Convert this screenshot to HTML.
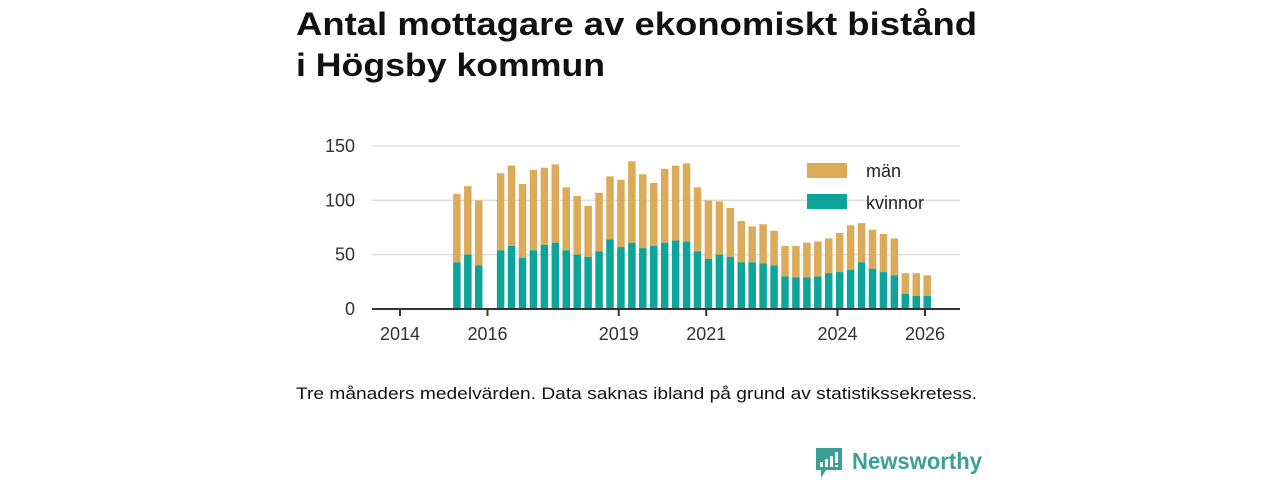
<!DOCTYPE html>
<html><head><meta charset="utf-8"><style>
html,body{margin:0;padding:0;background:#fff;width:1280px;height:480px;overflow:hidden}
svg{display:block;font-family:"Liberation Sans","DejaVu Sans",sans-serif}
</style></head><body>
<svg id="chart" width="1280" height="480" viewBox="0 0 1280 480">
<text x="296" y="35" font-size="32" font-weight="bold" fill="#111" textLength="681" lengthAdjust="spacingAndGlyphs">Antal mottagare av ekonomiskt bistånd</text>
<text x="296" y="76" font-size="32" font-weight="bold" fill="#111" textLength="309" lengthAdjust="spacingAndGlyphs">i Högsby kommun</text>
<g id="grid"></g>
<g id="bars"></g>
<g id="axes"></g>
<g>
<rect x="807" y="163" width="40" height="15" fill="#dcab5a"/>
<text x="866" y="177" font-size="18" fill="#222">män</text>
<rect x="807" y="194" width="40" height="15" fill="#0da59a"/>
<text x="866" y="209" font-size="18" fill="#222">kvinnor</text>
</g>
<text x="296" y="399" font-size="17" fill="#111" textLength="681" lengthAdjust="spacingAndGlyphs">Tre månaders medelvärden. Data saknas ibland på grund av statistikssekretess.</text>
<g>
<path d="M816 448 h26 v22 h-16 l-5 8 v-8 h-5 z" fill="#3a9f95"/>
<rect x="820" y="462" width="3" height="5" fill="#fff"/><rect x="825" y="459" width="3" height="8" fill="#fff"/><rect x="830" y="456" width="3" height="11" fill="#fff"/><rect x="835" y="452" width="3" height="11" fill="#fff"/><rect x="835" y="465" width="3" height="2" fill="#fff"/>
<text x="852" y="469" font-size="23" font-weight="bold" fill="#3a9f95" textLength="130" lengthAdjust="spacingAndGlyphs">Newsworthy</text>
</g>
</svg>
<script>
const startYear = 2015.3;
const kvinnor = [43,50,40,null,54,58,47,54,59,61,54,50,48,53,64,57,61,56,58,61,63,62,53,46,50,48,43,43,42,40,30,29,29,30,33,34,36,43,37,34,31,14,12,12];
const totals = [106,113,100,null,125,132,115,128,130,133,112,104,95,107,122,119,136,124,116,129,132,134,112,100,99,93,81,76,78,72,58,58,61,62,65,70,77,79,73,69,65,33,33,31];
const yTicks = [0,50,100,150];
const xTicks = [2014,2016,2019,2021,2024,2026];
const NS='http://www.w3.org/2000/svg';
const x = yr => 400 + (yr-2014)*43.75;
const y = v => 309 - v*163/150;
function mk(tag, attrs, parent){const e=document.createElementNS(NS,tag);for(const k in attrs)e.setAttribute(k,attrs[k]);parent.appendChild(e);return e;}
const grid=document.getElementById('grid'), bars=document.getElementById('bars'), axes=document.getElementById('axes');
yTicks.forEach(t=>{
  if(t>0){const l=mk('line',{x1:372,x2:960,y1:y(t),y2:y(t),stroke:'#ddd','stroke-width':1.5},grid);
  
  }
  const tx=mk('text',{x:355,y:y(t)+6,'font-size':18,'text-anchor':'end',fill:'#333'},axes);
  tx.textContent=t;
  
  
});
totals.forEach((tot,i)=>{
  if(tot==null) return;
  const cx=x(startYear+0.25*i), w=7.5, k=kvinnor[i];
  const m=mk('rect',{x:cx-w/2,y:y(tot),width:w,height:y(k)-y(tot),fill:'#dcab5a'},bars);
  
  
  const f=mk('rect',{x:cx-w/2,y:y(k),width:w,height:y(0)-y(k),fill:'#0da59a'},bars);
  
  
});
const ax=mk('line',{x1:372,x2:960,y1:309,y2:309,stroke:'#333','stroke-width':2},axes);


xTicks.forEach(t=>{
  const tk=mk('line',{x1:x(t),x2:x(t),y1:309,y2:316,stroke:'#333','stroke-width':2},axes);
  
  
  const tx=mk('text',{x:x(t),y:340,'font-size':18,'text-anchor':'middle',fill:'#333'},axes);
  tx.textContent=t;
  
  
});
</script>
</body></html>
